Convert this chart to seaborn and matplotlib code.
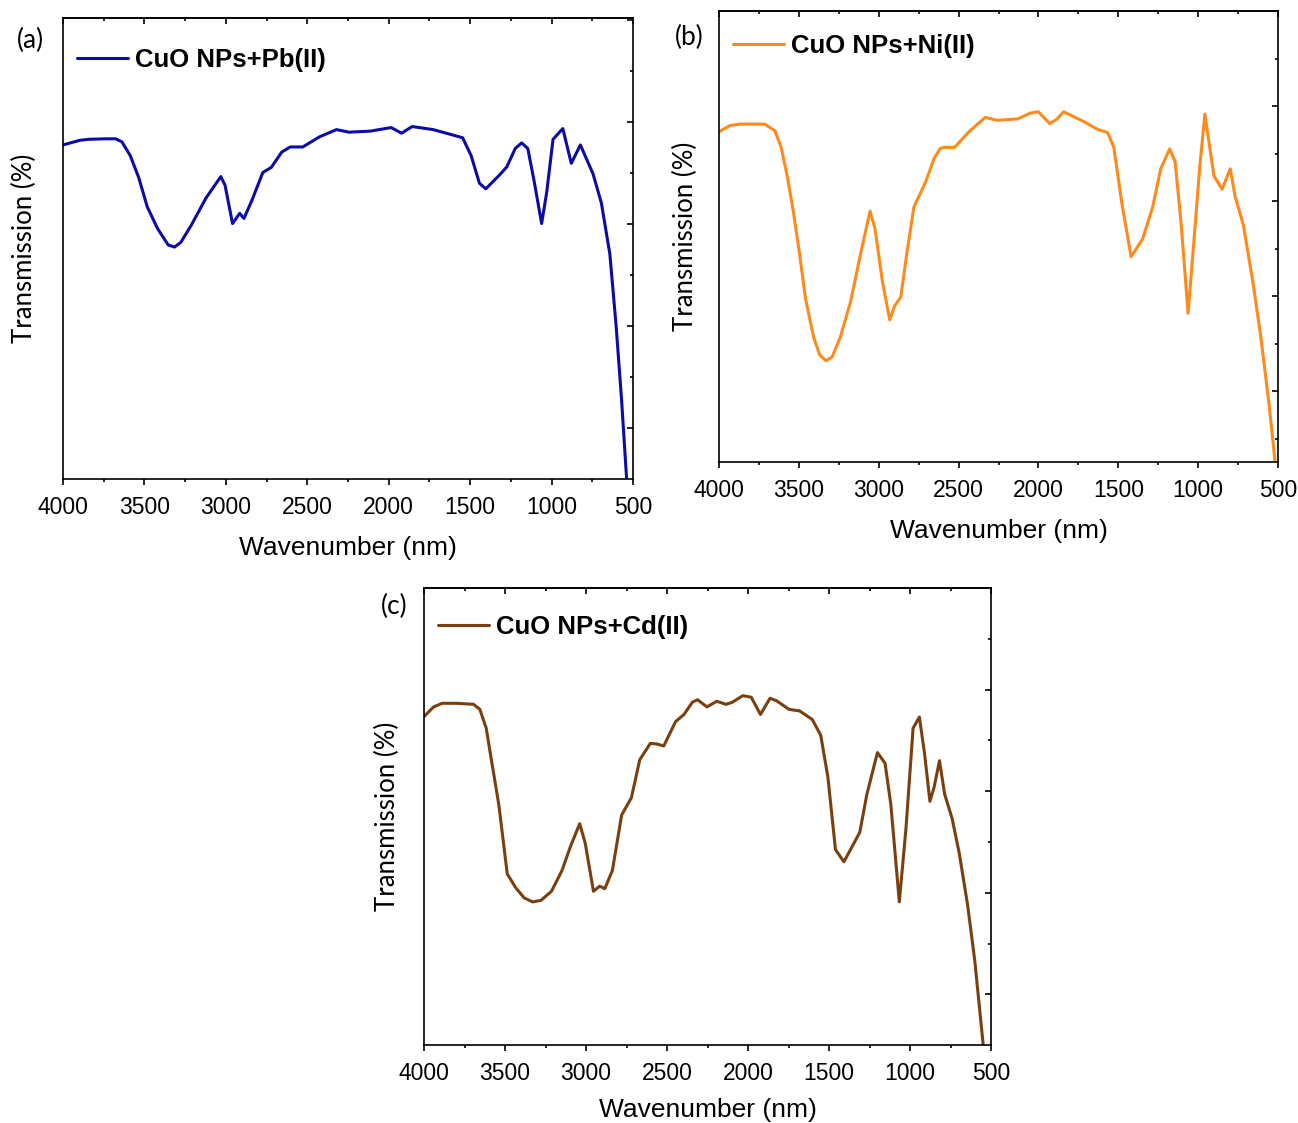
import numpy as np
import pandas as pd
import matplotlib
matplotlib.use("Agg")
import matplotlib.pyplot as plt
import seaborn as sns
from matplotlib.ticker import MultipleLocator

# ---------------- data ----------------
wn_pb = [4000, 3897, 3845, 3742, 3677, 3638, 3587, 3535, 3483, 3419, 3354, 3315, 3277, 3212, 3122,
         3031, 3005, 2959, 2915, 2889, 2838, 2773, 2721, 2657, 2605, 2528, 2424, 2321, 2244, 2114,
         1985, 1921, 1856, 1727, 1624, 1546, 1494, 1443, 1404, 1314, 1275, 1223, 1184, 1146, 1107,
         1061, 1030, 991, 931, 879, 823, 745, 694, 642, 603, 570, 539]
tr_pb = [75.5, 76.4, 76.6, 76.7, 76.7, 76.1, 73.4, 69.1, 63.4, 59.1, 55.9, 55.5, 56.4, 59.8, 65.1,
         69.3, 67.6, 60.1, 62.1, 61.1, 64.8, 70.1, 71.1, 74.1, 75.1, 75.1, 77.1, 78.5, 78.0, 78.2,
         78.9, 77.8, 79.1, 78.5, 77.6, 76.9, 73.4, 68.0, 66.9, 69.8, 71.2, 74.8, 75.9, 74.8, 68.4,
         60.1, 66.2, 76.6, 78.7, 71.9, 75.5, 69.8, 64.1, 54.1, 39.8, 25.5, 10.0]

wn_ni = [4000, 3931, 3867, 3714, 3650, 3611, 3573, 3535, 3496, 3458, 3407, 3369, 3330, 3292, 3241,
         3177, 3113, 3054, 3023, 2977, 2931, 2901, 2862, 2824, 2780, 2704, 2653, 2614, 2589, 2525,
         2435, 2333, 2256, 2129, 2052, 2001, 1929, 1886, 1842, 1720, 1630, 1566, 1528, 1477, 1420,
         1348, 1285, 1234, 1178, 1144, 1106, 1063, 1029, 991, 958, 901, 850, 799, 768, 717, 658,
         607, 556, 518]
tr_ni = [74.6, 75.9, 76.2, 76.2, 74.8, 71.3, 65.3, 57.9, 49.0, 39.4, 31.3, 27.6, 26.4, 27.2, 31.3,
         38.7, 49.0, 57.9, 54.2, 43.1, 35.0, 37.9, 39.8, 49.0, 58.7, 64.2, 69.0, 71.1, 71.3, 71.3,
         74.6, 77.6, 77.0, 77.3, 78.5, 78.8, 76.3, 77.2, 78.8, 76.8, 75.1, 74.4, 71.3, 59.4, 48.3,
         52.0, 58.7, 66.8, 71.0, 68.3, 55.0, 36.4, 50.5, 66.8, 78.3, 65.3, 62.5, 66.8, 60.9, 55.0, 43.1,
         31.3, 17.2, 5.1]

wn_cd = [4000, 3940, 3888, 3797, 3694, 3655, 3616, 3577, 3538, 3486, 3434, 3382, 3330, 3278, 3213,
         3148, 3096, 3039, 3005, 2954, 2915, 2884, 2837, 2780, 2720, 2668, 2603, 2564, 2520, 2447,
         2395, 2344, 2312, 2253, 2193, 2136, 2097, 2032, 1980, 1923, 1864, 1824, 1746, 1681, 1603,
         1551, 1507, 1460, 1408, 1357, 1310, 1266, 1201, 1154, 1118, 1066, 1025, 981, 942, 911, 877,
         851, 818, 786, 740, 696, 644, 600, 548]
tr_cd = [74.7, 76.6, 77.3, 77.3, 77.1, 76.1, 72.4, 64.8, 57.3, 43.7, 41.0, 39.0, 38.2, 38.5, 40.3,
         44.4, 49.1, 53.6, 49.8, 40.3, 41.3, 40.8, 44.4, 55.3, 58.7, 66.2, 69.4, 69.3, 68.9, 73.7,
         75.1, 77.5, 78.0, 76.6, 77.7, 77.1, 77.5, 78.8, 78.5, 75.1, 78.3, 77.8, 76.1, 75.8, 74.1,
         71.0, 62.8, 48.5, 46.1, 49.1, 51.9, 59.4, 67.6, 65.5, 57.3, 38.2, 52.6, 72.4, 74.6, 67.6, 58.0,
         60.8, 66.0, 59.4, 54.6, 47.8, 37.5, 26.6, 10.0]

labels = ["CuO NPs+Pb(II)", "CuO NPs+Ni(II)", "CuO NPs+Cd(II)"]
panel_tags = ["(a)", "(b)", "(c)"]
colors = ["#0B0BA6", "#FF8A1C", "#7A3F0E"]
x_ticks = [4000, 3500, 3000, 2500, 2000, 1500, 1000, 500]

# ---------------- style ----------------
sns.set_theme(style="ticks")
plt.rcParams['font.family'] = ['Liberation Sans', 'DejaVu Sans']
plt.rcParams['axes.linewidth'] = 1.2
for k in ['text.color', 'axes.labelcolor', 'xtick.color', 'ytick.color',
          'xtick.labelcolor', 'ytick.labelcolor', 'axes.edgecolor']:
    plt.rcParams[k] = 'black'

W, H = 1298, 1123
fig = plt.figure(figsize=(W / 100, H / 100), dpi=100)

# axes boxes in pixels: left, right, top, bottom
boxes = [(63, 633, 18, 479), (719, 1278, 11, 462), (424, 991, 588, 1045)]
ylims = [(10.07, 100.36), (5.1, 100.0), (10.03, 100.0)]
tag_pos = [(17, 40), (675, 37), (381, 606)]
leg_off = [42, 35, 39]   # px from axes top to legend text centre
ylab_x = [37, 698, 400]  # right edge of the rotated y label
xlab_pad = [12, 12, 9]

datasets = [(wn_pb, tr_pb), (wn_ni, tr_ni), (wn_cd, tr_cd)]
calibri_like = ['Lato', 'Open Sans', 'DejaVu Sans']

for i, ((wn, tr), (l, r, t, b)) in enumerate(zip(datasets, boxes)):
    ax = fig.add_axes([l / W, 1 - b / H, (r - l) / W, (b - t) / H])
    df = pd.DataFrame({"Wavenumber": wn, "Transmission": tr, "Sample": labels[i]})
    sns.lineplot(data=df, x="Wavenumber", y="Transmission", hue="Sample",
                 palette=[colors[i]], linewidth=2.2, sort=False, estimator=None, ax=ax)
    ax.lines[0].set_solid_joinstyle('round')
    ax.set_xlim(4000, 500)
    ax.set_ylim(*ylims[i])
    ax.set_xticks(x_ticks)
    ax.xaxis.set_minor_locator(MultipleLocator(250))
    ax.yaxis.set_major_locator(MultipleLocator(20))
    ax.yaxis.set_minor_locator(MultipleLocator(10))
    ax.tick_params(axis='x', which='major', direction='out', length=4.5, width=1.2,
                   top=False, labelsize=16.5, pad=8)
    ax.tick_params(axis='x', which='minor', direction='out', length=2.5, width=1.2, top=False)
    ax.tick_params(axis='y', which='both', left=False, labelleft=False, right=True,
                   direction='in', width=1.2)
    ax.tick_params(axis='y', which='major', length=4.5)
    ax.tick_params(axis='y', which='minor', length=2.5)
    for sp in ax.spines.values():
        sp.set_visible(True)
        sp.set_color('black')
    ax.set_xlabel("Wavenumber (nm)", fontsize=19, labelpad=xlab_pad[i])
    ax.set_ylabel("Transmission (%)", fontsize=18.5, family=calibri_like)
    ax.yaxis.set_label_coords((ylab_x[i] - l) / (r - l), 0.5)
    fs = 18.5
    yc = 1 - leg_off[i] / (b - t)
    leg = ax.legend(loc='center left', frameon=False, handlelength=2.0, handletextpad=0.25,
                    borderaxespad=0.0, borderpad=0.0,
                    bbox_to_anchor=(14 / (r - l), yc),
                    prop={'weight': 'bold', 'size': fs})
    for h in leg.get_lines():
        h.set_linewidth(2.2)
    fig.text(tag_pos[i][0] / W, 1 - tag_pos[i][1] / H, panel_tags[i], fontsize=19,
             family=calibri_like, ha='left', va='center')

    sec = ax.secondary_xaxis('top')
    sec.set_xticks(x_ticks)
    sec.xaxis.set_minor_locator(MultipleLocator(250))
    sec.tick_params(which='major', direction='in', length=4.5, width=1.2, labeltop=False)
    sec.tick_params(which='minor', direction='in', length=2.5, width=1.2)
    sec.spines['top'].set_linewidth(1.2)

fig.savefig("out.png", dpi=100)
